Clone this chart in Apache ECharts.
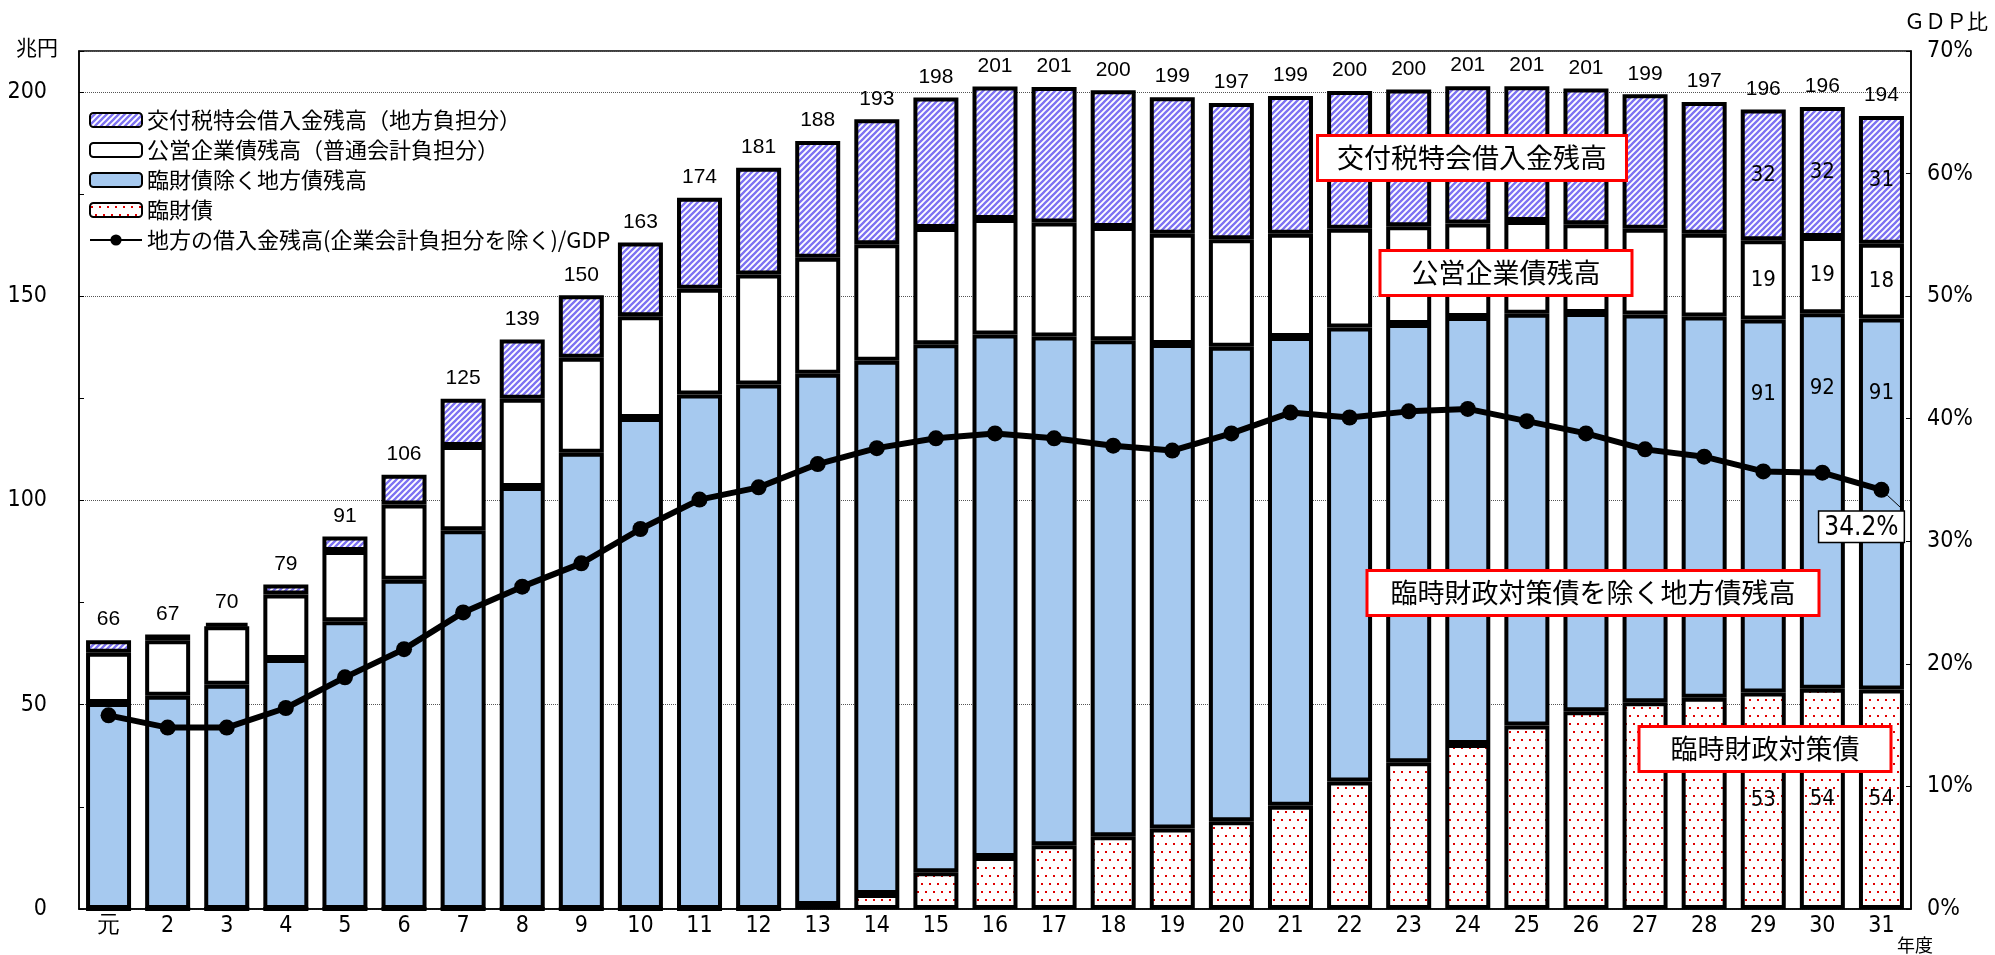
<!DOCTYPE html>
<html>
<head>
<meta charset="utf-8">
<title>地方の借入金残高の推移</title>
<script src="https://cdn.jsdelivr.net/npm/echarts@6/dist/echarts.min.js"></script>
<style>
  html, body { margin: 0; padding: 0; background: #fff; }
  #chart { width: 1995px; height: 955px; }
</style>
</head>
<body>
<div id="chart"></div>
<script>
// 年度
const categories = ['元', '2', '3', '4', '5', '6', '7', '8', '9', '10',
  '11', '12', '13', '14', '15', '16', '17', '18', '19', '20',
  '21', '22', '23', '24', '25', '26', '27', '28', '29', '30', '31']

// 臨財債（兆円）
const rinzai = [0, 0, 0, 0, 0, 0, 0, 0, 0, 0,
  0, 0, 1.0, 3.7, 9.0, 12.7, 15.6, 17.8, 19.7, 21.5,
  25.3, 31.2, 35.9, 40.4, 44.9, 48.4, 50.6, 51.7, 53.0, 53.9, 53.7]

// 臨財債除く地方債残高
const chihosai = [50.4, 52.2, 54.9, 61.2, 70.4, 80.6, 92.7, 103.3, 111.7, 120.2,
  125.9, 128.4, 130.0, 130.5, 129.2, 127.9, 124.5, 121.4, 118.6, 116.1,
  114.7, 111.1, 107.3, 104.5, 100.8, 97.5, 94.9, 93.3, 91.3, 91.9, 90.8]

// 公営企業債残高（普通会計負担分）
const koei = [12.3, 13.6, 14.3, 15.8, 17.2, 18.4, 20.6, 21.6, 23.2, 24.9,
  25.9, 26.9, 28.4, 28.5, 28.5, 28.3, 27.9, 27.7, 27.0, 26.3,
  25.3, 24.2, 23.9, 22.9, 22.7, 21.7, 21.0, 20.3, 19.4, 18.7, 18.3]

// 交付税特会借入金残高（地方負担分）
const kofuzei = [3.1, 1.4, 0.8, 2.4, 3.6, 7.3, 11.6, 14.5, 15.3, 18.0,
  22.3, 26.1, 28.6, 30.6, 31.9, 32.4, 33.2, 33.5, 33.4, 33.4,
  33.7, 33.7, 33.5, 33.6, 33.0, 33.2, 32.9, 32.2, 32.0, 31.8, 31.3]

// 合計（表示値）
const totalLabels = [66, 67, 70, 79, 91, 106, 125, 139, 150, 163,
  174, 181, 188, 193, 198, 201, 201, 200, 199, 197,
  199, 200, 200, 201, 201, 201, 199, 197, 196, 196, 194]

// 地方の借入金残高/GDP（%）
const gdpRatio = [15.8, 14.8, 14.8, 16.4, 18.9, 21.2, 24.2, 26.3, 28.2, 31.0,
  33.4, 34.4, 36.3, 37.6, 38.4, 38.8, 38.4, 37.8, 37.4, 38.8,
  40.5, 40.1, 40.6, 40.8, 39.8, 38.8, 37.5, 36.9, 35.7, 35.6, 34.2]

// 内訳を表示する年度（29〜31）
const labeledIdx = [28, 29, 30]

const narrowFont = "'Liberation Sans Narrow', 'DejaVu Sans Condensed', 'Liberation Sans', sans-serif"
const jpFont = "'Noto Sans CJK JP', sans-serif"

// 斜線パターン
const makeHatch = () => {
  const c = document.createElement('canvas')
  c.width = 6
  c.height = 6
  const ctx = c.getContext('2d')
  ctx.fillStyle = '#ffffff'
  ctx.fillRect(0, 0, 6, 6)
  ctx.strokeStyle = '#7d72f2'
  ctx.lineWidth = 2.3
  ctx.beginPath()
  ctx.moveTo(-1, 7); ctx.lineTo(7, -1)
  ctx.moveTo(-4, 4); ctx.lineTo(4, -4)
  ctx.moveTo(2, 10); ctx.lineTo(10, 2)
  ctx.stroke()
  return c
}

// 点描パターン
const makeDots = () => {
  const c = document.createElement('canvas')
  c.width = 8
  c.height = 16
  const ctx = c.getContext('2d')
  ctx.fillStyle = '#ffffff'
  ctx.fillRect(0, 0, 8, 16)
  ctx.fillStyle = '#e00000'
  ctx.fillRect(1, 3, 2, 2)
  ctx.fillRect(5, 11, 2, 2)
  return c
}

const chart = echarts.init(document.getElementById('chart'))

const barBase = {
  type: 'bar',
  stack: 'debt',
  stackStrategy: 'all',
  barWidth: 45,
  itemStyle: { borderColor: '#000', borderWidth: 4 }
}

const innerLabel = (extra) => Object.assign({
  show: true,
  fontSize: 22,
  fontFamily: narrowFont,
  color: '#000',
  formatter: (p) => labeledIdx.includes(p.dataIndex) ? String(Math.round(p.value)) : ''
}, extra)

const boxText = (text, x, y, padH) => ({
  type: 'text',
  z: 100,
  x: x,
  y: y,
  style: {
    text: text,
    fontSize: 27,
    fontFamily: jpFont,
    fill: '#000',
    align: 'center',
    verticalAlign: 'middle',
    backgroundColor: '#fff',
    borderColor: '#ff0000',
    borderWidth: 3,
    padding: [6, padH],
    lineHeight: 30
  }
})

const gdpData = gdpRatio.map((v, i) => {
  if (i !== gdpRatio.length - 1) return v
  return {
    value: v,
    label: {
      show: true,
      formatter: (p) => p.value.toFixed(1) + '%',
      position: 'bottom',
      distance: 12,
      offset: [-20, 2],
      fontSize: 26,
      fontFamily: narrowFont,
      color: '#000',
      backgroundColor: '#fff',
      borderColor: '#000',
      borderWidth: 1.5,
      padding: [3, 5, 1, 5]
    },
    labelLine: { show: true, lineStyle: { color: '#000', width: 1 } }
  }
})

chart.setOption({
  animation: false,
  grid: {
    left: 79, right: 84, top: 51, bottom: 46,
    show: true, borderColor: '#000', borderWidth: 1.5
  },
  legend: {
    orient: 'vertical',
    left: 84,
    top: 104,
    itemWidth: 52,
    itemHeight: 14,
    itemGap: 8,
    textStyle: { fontSize: 22, fontFamily: jpFont, color: '#000' },
    data: [
      '交付税特会借入金残高（地方負担分）',
      '公営企業債残高（普通会計負担分）',
      '臨財債除く地方債残高',
      '臨財債',
      '地方の借入金残高(企業会計負担分を除く)/GDP'
    ]
  },
  xAxis: {
    type: 'category',
    data: categories,
    axisLine: { lineStyle: { color: '#000', width: 1.5 } },
    axisTick: { inside: true, length: 5, lineStyle: { color: '#000' } },
    axisLabel: { fontSize: 23, fontFamily: narrowFont, color: '#000', margin: 6 }
  },
  yAxis: [
    {
      type: 'value',
      min: 0,
      max: 210,
      interval: 50,
      axisLine: { show: true, lineStyle: { color: '#000', width: 1.5 } },
      axisTick: { show: true, inside: true, length: 5, lineStyle: { color: '#000' } },
      minorTick: { show: true, splitNumber: 2, length: 5, lineStyle: { color: '#000' } },
      splitLine: { show: true, lineStyle: { color: '#555', type: 'dotted', width: 1 } },
      axisLabel: {
        fontSize: 23, fontFamily: narrowFont, color: '#000', margin: 32,
        showMaxLabel: false,
        formatter: (v) => v % 50 === 0 ? String(v) : ''
      }
    },
    {
      type: 'value',
      min: 0,
      max: 70,
      interval: 10,
      axisLine: { show: true, lineStyle: { color: '#000', width: 1.5 } },
      axisTick: { show: true, inside: true, length: 5, lineStyle: { color: '#000' } },
      splitLine: { show: false },
      axisLabel: { fontSize: 23, fontFamily: narrowFont, color: '#000', margin: 16, formatter: '{value}%' }
    }
  ],
  series: [
    Object.assign({}, barBase, {
      name: '臨財債',
      data: rinzai,
      itemStyle: { color: { image: makeDots(), repeat: 'repeat' }, borderColor: '#000', borderWidth: 4 },
      label: innerLabel({ position: 'inside' })
    }),
    Object.assign({}, barBase, {
      name: '臨財債除く地方債残高',
      data: chihosai,
      itemStyle: { color: '#a6c9ef', borderColor: '#000', borderWidth: 4 },
      label: innerLabel({ position: 'insideTop', distance: 64 })
    }),
    Object.assign({}, barBase, {
      name: '公営企業債残高（普通会計負担分）',
      data: koei,
      itemStyle: { color: '#ffffff', borderColor: '#000', borderWidth: 4 },
      label: innerLabel({ position: 'inside' })
    }),
    Object.assign({}, barBase, {
      name: '交付税特会借入金残高（地方負担分）',
      data: kofuzei,
      itemStyle: { color: { image: makeHatch(), repeat: 'repeat' }, borderColor: '#000', borderWidth: 4 },
      label: innerLabel({ position: 'inside' })
    }),
    {
      name: 'total',
      type: 'bar',
      stack: 'debt',
      stackStrategy: 'all',
      barWidth: 45,
      silent: true,
      data: categories.map(() => 0),
      itemStyle: { color: 'rgba(0,0,0,0)', borderWidth: 0 },
      label: {
        show: true,
        position: 'top',
        distance: 10,
        fontSize: 21,
        fontFamily: "'Liberation Sans', Arial, sans-serif",
        color: '#000',
        formatter: (p) => String(totalLabels[p.dataIndex])
      }
    },
    {
      name: '地方の借入金残高(企業会計負担分を除く)/GDP',
      type: 'line',
      yAxisIndex: 1,
      z: 10,
      data: gdpData,
      symbol: 'circle',
      symbolSize: 16,
      lineStyle: { color: '#000', width: 6 },
      itemStyle: { color: '#000' }
    }
  ],
  graphic: [
    { type: 'text', x: 37, y: 47, style: { text: '兆円', fontSize: 21, fontFamily: jpFont, fill: '#000', align: 'center', verticalAlign: 'middle' } },
    { type: 'text', x: 1946, y: 21, style: { text: 'ＧＤＰ比', fontSize: 21, fontFamily: jpFont, fill: '#000', align: 'center', verticalAlign: 'middle' } },
    { type: 'text', x: 1915, y: 945, style: { text: '年度', fontSize: 18, fontFamily: jpFont, fill: '#000', align: 'center', verticalAlign: 'middle' } },
    boxText('交付税特会借入金残高', 1472, 158, 18),
    boxText('公営企業債残高', 1506, 273, 30),
    boxText('臨時財政対策債を除く地方債残高', 1593, 593, 22),
    boxText('臨時財政対策債', 1765, 749, 30)
  ]
})
</script>
</body>
</html>
